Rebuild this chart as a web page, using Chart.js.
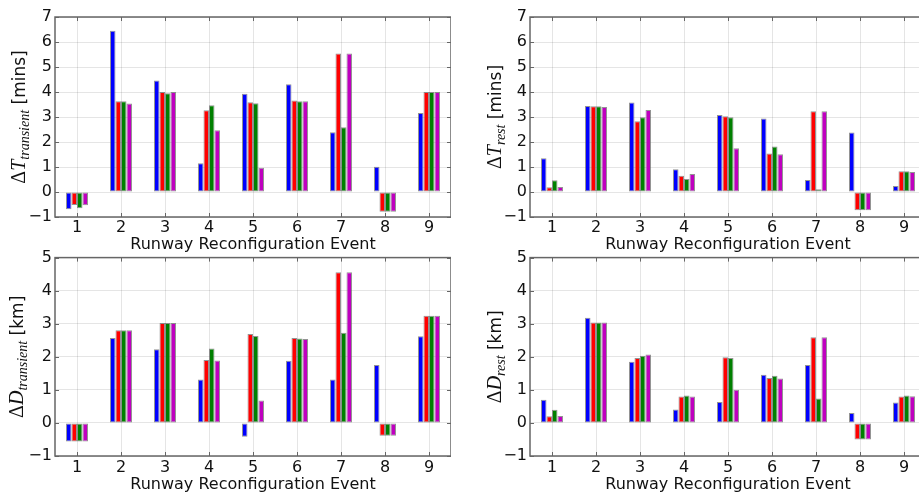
<!DOCTYPE html>
<html>
<head>
<meta charset="utf-8">
<script src="https://cdn.jsdelivr.net/npm/chart.js@4.4.1/dist/chart.umd.min.js"></script>
<style>
html,body{margin:0;padding:0;width:919px;height:494px;overflow:hidden;background:#fff;}
canvas{position:absolute;}
</style>
</head>
<body>
<canvas id="c1" width="451" height="256" style="left:0;top:0"></canvas>
<canvas id="c2" width="466" height="256" style="left:460px;top:0"></canvas>
<canvas id="c3" width="451" height="249" style="left:0;top:245px"></canvas>
<canvas id="c4" width="466" height="249" style="left:460px;top:245px"></canvas>
<script>
// ---- data ----
const events = ['1','2','3','4','5','6','7','8','9'];

const tTransientBlue    = [-0.69, 6.45, 4.46, 1.15, 3.93, 4.31, 2.39, 1.01, 3.16];
const tTransientRed     = [-0.52, 3.63, 4.00, 3.27, 3.59, 3.66, 5.54, -0.79, 4.00];
const tTransientGreen   = [-0.65, 3.63, 3.95, 3.47, 3.55, 3.63, 2.59, -0.79, 4.00];
const tTransientMagenta = [-0.53, 3.54, 4.00, 2.47, 0.97, 3.63, 5.54, -0.79, 4.00];

const tRestBlue    = [1.35, 3.44, 3.58, 0.91, 3.08, 2.94, 0.48, 2.38, 0.24];
const tRestRed     = [0.19, 3.43, 2.83, 0.65, 3.03, 1.54, 3.23, -0.73, 0.83];
const tRestGreen   = [0.47, 3.43, 2.99, 0.52, 2.99, 1.82, 0.11, -0.73, 0.83];
const tRestMagenta = [0.20, 3.40, 3.28, 0.72, 1.75, 1.51, 3.23, -0.73, 0.80];

const dTransientBlue    = [-0.56, 2.57, 2.23, 1.31, -0.42, 1.88, 1.31, 1.75, 2.62];
const dTransientRed     = [-0.56, 2.80, 3.02, 1.90, 2.69, 2.57, 4.56, -0.39, 3.24];
const dTransientGreen   = [-0.56, 2.80, 3.02, 2.25, 2.63, 2.55, 2.73, -0.39, 3.24];
const dTransientMagenta = [-0.56, 2.80, 3.02, 1.89, 0.68, 2.54, 4.56, -0.39, 3.24];

const dRestBlue    = [0.70, 3.18, 1.85, 0.41, 0.63, 1.46, 1.75, 0.30, 0.62];
const dRestRed     = [0.20, 3.04, 1.96, 0.80, 1.99, 1.36, 2.59, -0.50, 0.80];
const dRestGreen   = [0.40, 3.04, 2.03, 0.83, 1.96, 1.43, 0.74, -0.50, 0.83];
const dRestMagenta = [0.21, 3.04, 2.07, 0.80, 1.00, 1.34, 2.59, -0.50, 0.81];

const xTitle = 'Runway Reconfiguration Event';
const colors = ['#0000ff', '#ff0000', '#008000', '#bf00bf'];

// ---- helpers ----
const frameAndLabel = {
  id: 'frameAndLabel',
  afterDraw(chart, args, opts) {
    const ctx = chart.ctx;
    const a = chart.chartArea;
    ctx.save();
    // inward ticks
    ctx.strokeStyle = '#666';
    ctx.lineWidth = 1;
    const xs = chart.scales.x, ys = chart.scales.y;
    for (let i = 0; i < xs.ticks.length; i++) {
      const px = Math.round(xs.getPixelForTick(i)) + 0.5;
      ctx.beginPath();
      ctx.moveTo(px, a.top); ctx.lineTo(px, a.top + 4);
      ctx.moveTo(px, a.bottom); ctx.lineTo(px, a.bottom - 4);
      ctx.stroke();
    }
    for (let i = 0; i < ys.ticks.length; i++) {
      const py = Math.round(ys.getPixelForTick(i)) + 0.5;
      ctx.beginPath();
      ctx.moveTo(a.left, py); ctx.lineTo(a.left + 4, py);
      ctx.moveTo(a.right, py); ctx.lineTo(a.right - 4, py);
      ctx.stroke();
    }
    // frame
    ctx.strokeStyle = '#666';
    ctx.lineWidth = 1.5;
    ctx.strokeRect(a.left, a.top, a.right - a.left, a.bottom - a.top);
    // y label with subscript
    const cy = (a.top + a.bottom) / 2;
    ctx.translate(opts.x, cy);
    ctx.rotate(-Math.PI / 2);
    ctx.fillStyle = '#111';
    ctx.textBaseline = 'alphabetic';
    const fDelta = '20px "Liberation Serif"';
    const fSym = 'italic 20px "Liberation Serif"';
    const fSub = 'italic 14px "Liberation Serif"';
    const fUnit = '17px "DejaVu Sans"';
    const parts = [
      {t: '\u0394', f: fDelta, dy: 0},
      {t: opts.sym, f: fSym, dy: 0},
      {t: opts.sub, f: fSub, dy: 4},
      {t: ' ' + opts.unit, f: fUnit, dy: 0}
    ];
    let total = 0;
    parts.forEach(p => { ctx.font = p.f; p.w = ctx.measureText(p.t).width; total += p.w; });
    let x = -total / 2;
    const base = 6;
    parts.forEach(p => { ctx.font = p.f; ctx.fillText(p.t, x, base + p.dy); x += p.w; });
    ctx.restore();
  }
};

function makeChart(id, series, ymin, ymax, cfg) {
  const ds = series.map((d, i) => ({
    label: 'S' + (i + 1),
    data: d,
    backgroundColor: colors[i],
    borderColor: 'rgba(90,90,90,0.65)',
    borderWidth: 1,
    borderSkipped: false,
    categoryPercentage: 0.5,
    barPercentage: 1.0
  }));
  return new Chart(document.getElementById(id), {
    type: 'bar',
    data: { labels: events, datasets: ds },
    plugins: [frameAndLabel],
    options: {
      responsive: false,
      animation: false,
      layout: { padding: { top: cfg.padTop, right: 0, left: 0, bottom: 0 } },
      plugins: {
        legend: { display: false },
        tooltip: { enabled: false },
        frameAndLabel: { x: cfg.labelX, sym: cfg.sym, sub: cfg.sub, unit: cfg.unit }
      },
      scales: {
        x: {
          offset: true,
          grid: { offset: false, color: 'rgba(0,0,0,0.1)', drawTicks: false },
          border: { display: false },
          ticks: { color: '#111', font: { family: 'DejaVu Sans', size: 16 }, padding: cfg.xTickPad, maxRotation: 0 },
          title: { display: true, text: xTitle, color: '#111', font: { family: 'DejaVu Sans', size: 16 }, padding: { top: 0, bottom: cfg.titlePad } },
          afterFit(s) { s.height = cfg.xHeight; }
        },
        y: {
          min: ymin, max: ymax,
          grid: { color: 'rgba(0,0,0,0.1)', drawTicks: false },
          border: { display: false },
          ticks: {
            stepSize: 1, color: '#111', padding: 3,
            font: { family: 'DejaVu Sans', size: 16 },
            callback: v => String(v).replace('-', '\u2212')
          },
          afterFit(s) { s.width = cfg.yWidth; }
        }
      }
    }
  });
}

makeChart('c1', [tTransientBlue, tTransientRed, tTransientGreen, tTransientMagenta], -1, 7,
  { padTop: 17, xHeight: 39, yWidth: 55, xTickPad: 1, titlePad: 2, labelX: 19, sym: 'T', sub: 'transient', unit: '[mins]' });
makeChart('c2', [tRestBlue, tRestRed, tRestGreen, tRestMagenta], -1, 7,
  { padTop: 17, xHeight: 39, yWidth: 70, xTickPad: 1, titlePad: 2, labelX: 35, sym: 'T', sub: 'rest', unit: '[mins]' });
makeChart('c3', [dTransientBlue, dTransientRed, dTransientGreen, dTransientMagenta], -1, 5,
  { padTop: 12, xHeight: 38, yWidth: 55, xTickPad: 2, titlePad: 0, labelX: 17, sym: 'D', sub: 'transient', unit: '[km]' });
makeChart('c4', [dRestBlue, dRestRed, dRestGreen, dRestMagenta], -1, 5,
  { padTop: 12, xHeight: 38, yWidth: 70, xTickPad: 2, titlePad: 0, labelX: 35, sym: 'D', sub: 'rest', unit: '[km]' });
</script>
</body>
</html>
